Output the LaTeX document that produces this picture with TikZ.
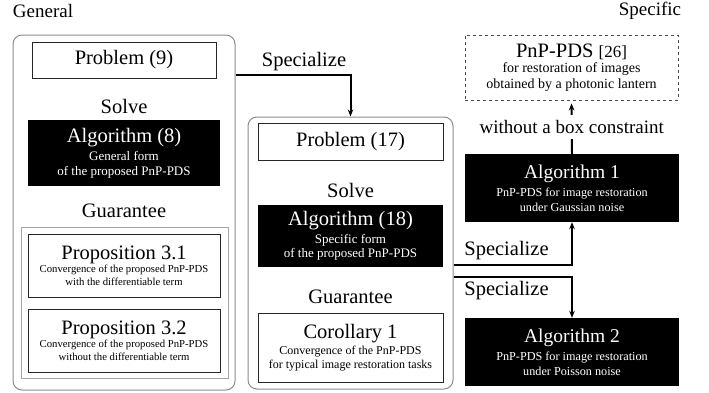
\documentclass[tikz,border=0pt]{standalone}
\usepackage{fontspec}
\setmainfont{Liberation Serif}
\usetikzlibrary{positioning,arrows.meta}

\newcommand{\titlefont}{\fontsize{20.5}{23}\selectfont}
\newcommand{\headfont}{\fontsize{19.5}{22}\selectfont}
\newcommand{\notefont}{\fontsize{12.2}{15}\selectfont}
\newcommand{\formnotefont}{\fontsize{13}{14.5}\selectfont}
\newcommand{\propnotefont}{\fontsize{10.7}{12.5}\selectfont}

\tikzset{
  >={Stealth[length=7pt,width=5.5pt]},
  panel/.style={draw=black!45, line width=1pt, rounded corners=9pt, inner sep=0pt},
  guarframe/.style={draw=black!35, line width=0.6pt, inner sep=0pt},
  plainbox/.style={draw=black!85, line width=0.9pt, align=center, inner sep=0pt, font=\notefont},
  blackbox/.style={fill=black, text=white, align=center, inner sep=0pt, font=\notefont},
  dashbox/.style={draw=black!70, dashed, line width=0.8pt, align=center, inner sep=0pt, font=\notefont},
  caption/.style={font=\titlefont, inner sep=1pt},
  link/.style={->, line width=2pt},
}

\begin{document}
\begin{tikzpicture}[x=1pt, y=-1pt]
\useasboundingbox (0,0) rectangle (709,392);

\node[caption, font=\fontsize{19}{22}\selectfont] (general) at (43,11) {General};
\node[caption, font=\fontsize{19}{22}\selectfont] (specific) at (650,11) {Specific};

\node[panel, minimum width=222pt, minimum height=355pt] (leftpanel) at (124,212.5) {};
\node[guarframe, minimum width=207pt, minimum height=151pt] (frame9) at (124.5,302.5) {};
\node[plainbox, minimum width=184pt, minimum height=36pt] (prob9) at (124,60) {\titlefont Problem (9)};
\node[caption] (solve9) at (124,106.5) {Solve};
\node[blackbox, font=\formnotefont, minimum width=192pt, minimum height=66pt] (alg8) at (124,153)
  {{\titlefont Algorithm (8)}\\[4pt] General form\\ of the proposed PnP-PDS};
\node[caption] (guar9) at (124,211) {Guarantee};
\node[plainbox, font=\propnotefont, minimum width=192pt, minimum height=63pt] (prop31) at (124,265.5)
  {{\titlefont Proposition 3.1}\\[1pt] Convergence of the proposed PnP-PDS\\ with the differentiable term};
\node[plainbox, font=\propnotefont, minimum width=192pt, minimum height=63pt] (prop32) at (124,340.5)
  {{\titlefont Proposition 3.2}\\[1pt] Convergence of the proposed PnP-PDS\\ without the differentiable term};

\node[panel, minimum width=205pt, minimum height=272pt] (midpanel) at (350.5,253) {};
\node[plainbox, minimum width=185pt, minimum height=37pt] (prob17) at (350.5,141.5) {\titlefont Problem (17)};
\node[caption] (solve17) at (350.5,190.5) {Solve};
\node[blackbox, font=\formnotefont, minimum width=185pt, minimum height=62pt] (alg18) at (350.5,236)
  {{\titlefont Algorithm (18)}\\[3pt] Specific form\\ of the proposed PnP-PDS};
\node[caption] (guar17) at (350.5,296.5) {Guarantee};
\node[plainbox, font=\fontsize{12}{14}\selectfont, minimum width=185pt, minimum height=69pt] (cor1) at (350.5,347.5)
  {{\titlefont Corollary 1}\\[2pt] Convergence of the PnP-PDS\\ for typical image restoration tasks};

\node[dashbox, font=\fontsize{14}{15.5}\selectfont, minimum width=213pt, minimum height=65pt] (pnppds) at (571.5,67.5)
  {{\titlefont PnP-PDS {\fontsize{17}{20}\selectfont[26]}}\\[0pt] for restoration of images\\ obtained by a photonic lantern};
\node[blackbox, minimum width=214pt, minimum height=68pt] (alg1) at (572,188)
  {{\headfont Algorithm 1}\\[3pt] PnP-PDS for image restoration\\ under Gaussian noise};
\node[blackbox, minimum width=214pt, minimum height=68pt] (alg2) at (572,352)
  {{\headfont Algorithm 2}\\[3pt] PnP-PDS for image restoration\\ under Poisson noise};

\draw[link] ([yshift=3pt]leftpanel.east |- prob9.south) -| (midpanel.north);
\node[caption] (spec9) at (304,62) {Specialize};

\draw[link] ([yshift=-12pt]midpanel.east) -| (alg1.south);
\node[caption] (spec1) at (506.5,251) {Specialize};
\draw[link] ([yshift=-24pt]midpanel.east) -| (alg2.north);
\node[caption] (spec2) at (506.5,291) {Specialize};

\draw[link, shorten >=3pt] (alg1.north) -- (pnppds.south)
  node[caption, font=\fontsize{19}{22}\selectfont, midway, fill=white, inner xsep=2pt, inner ysep=5pt] (nobox) {without a box constraint};

\end{tikzpicture}
\end{document}
